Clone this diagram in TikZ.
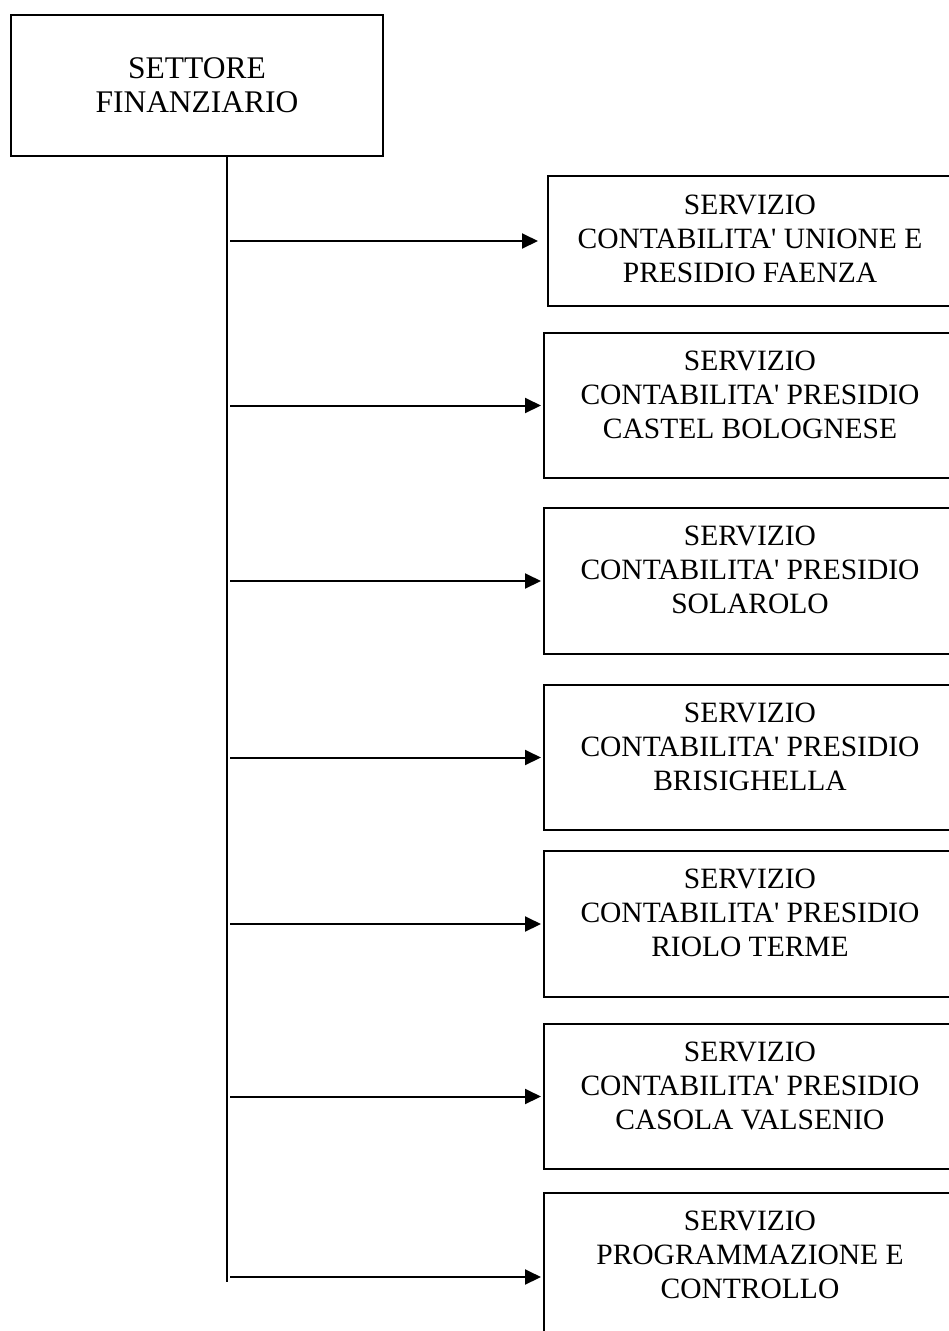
\documentclass[tikz,border=0pt]{standalone}
\usepackage{fontspec}
\setmainfont{Liberation Serif}
\usetikzlibrary{arrows.meta}
\tikzset{box/.style = {draw, line width=2pt, anchor=north west, inner sep=0pt,
                       minimum width=440pt}}
\tikzset{label/.style = {align=center, font=\fontsize{29.5}{34}\selectfont}}
\tikzset{link/.style = {line width=2pt, shorten >=2pt,
                        -{Triangle[length=16pt, width=15pt]}}}
\newcommand{\apos}{\textquotesingle}

\begin{document}
\begin{tikzpicture}[x=1pt, y=-1pt]
    \useasboundingbox (0, 0) rectangle (949, 1331);
    \clip (0, 0) rectangle (949, 1331);
    \node [box, minimum width=372pt, minimum height=141pt, align=center,
           font=\fontsize{31.5}{34}\selectfont] (settore) at (10, 14) {SETTORE\\FINANZIARIO};
    \node [box, minimum height=130pt] (s1) at (547, 175) {};
    \node [box, minimum height=145pt] (s2) at (543, 332) {};
    \node [box, minimum height=146pt] (s3) at (543, 507) {};
    \node [box, minimum height=145pt] (s4) at (543, 684) {};
    \node [box, minimum height=146pt] (s5) at (543, 850) {};
    \node [box, minimum height=145pt] (s6) at (543, 1023) {};
    \node [box, minimum height=168pt] (s7) at (543, 1192) {};
    \node [label] (t1) at (750, 239) {SERVIZIO\\CONTABILITA\apos{} UNIONE E\\PRESIDIO FAENZA};
    \node [label] (t2) at (750, 395) {SERVIZIO\\CONTABILITA\apos{} PRESIDIO\\CASTEL BOLOGNESE};
    \node [label] (t3) at (750, 570) {SERVIZIO\\CONTABILITA\apos{} PRESIDIO\\SOLAROLO};
    \node [label] (t4) at (750, 747) {SERVIZIO\\CONTABILITA\apos{} PRESIDIO\\BRISIGHELLA};
    \node [label] (t5) at (750, 913) {SERVIZIO\\CONTABILITA\apos{} PRESIDIO\\RIOLO TERME};
    \node [label] (t6) at (750, 1086) {SERVIZIO\\CONTABILITA\apos{} PRESIDIO\\CASOLA VALSENIO};
    \node [label] (t7) at (750, 1255) {SERVIZIO\\PROGRAMMAZIONE E\\CONTROLLO};
    \coordinate (bot) at (227, 1282);
    \coordinate (spine) at (230, 0);
    \draw [line width=2pt] (settore.south -| bot) -- (bot);
    \draw [link, shorten >=9pt] (spine |- s1.west) -- (s1.west);
    \draw [link] (spine |- s2.west) -- (s2.west);
    \draw [link] (spine |- s3.west) -- (s3.west);
    \draw [link] (spine |- s4.west) -- (s4.west);
    \draw [link] (spine |- s5.west) -- (s5.west);
    \draw [link] (spine |- s6.west) -- (s6.west);
    \draw [link] (spine |- s7.west) -- (s7.west);
  \end{tikzpicture}
\end{document}
